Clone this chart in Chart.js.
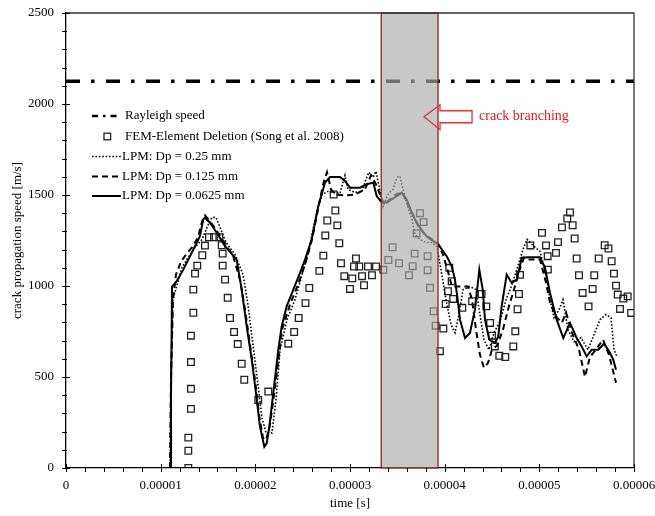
<!DOCTYPE html>
<html><head><meta charset="utf-8">
<script src="https://cdn.jsdelivr.net/npm/chart.js@4.4.0/dist/chart.umd.min.js"></script>
<style>html,body{margin:0;padding:0;background:#fff;}#wrap{width:655px;height:516px;}</style>
</head><body><div id="wrap"><canvas id="c" width="655" height="516"></canvas></div>
<script>
// ---- data (time in seconds, speed in m/s) ----
const rayleighTime = [0, 6e-5];
const rayleighSpeed = [2125, 2125];

const femTime = [1.292e-5,1.292e-5,1.292e-5,1.320e-5,1.320e-5,1.320e-5,1.320e-5,1.345e-5,1.345e-5,1.363e-5,1.387e-5,1.440e-5,1.468e-5,1.510e-5,1.563e-5,1.620e-5,1.645e-5,1.655e-5,1.655e-5,1.680e-5,1.708e-5,1.732e-5,1.775e-5,1.814e-5,1.856e-5,1.883e-5,2.031e-5,2.137e-5,
2.348e-5,2.410e-5,2.458e-5,2.530e-5,2.570e-5,2.676e-5,2.718e-5,2.739e-5,2.760e-5,2.827e-5,2.845e-5,2.866e-5,2.887e-5,2.905e-5,2.940e-5,3.000e-5,3.024e-5,3.042e-5,3.063e-5,3.098e-5,3.127e-5,3.148e-5,3.190e-5,3.232e-5,3.275e-5,3.352e-5,3.405e-5,3.450e-5,3.518e-5,3.623e-5,3.662e-5,3.683e-5,3.704e-5,3.739e-5,3.778e-5,3.820e-5,3.820e-5,3.845e-5,3.884e-5,3.905e-5,3.950e-5,3.986e-5,4.011e-5,4.035e-5,4.049e-5,4.074e-5,4.090e-5,4.186e-5,4.290e-5,4.390e-5,4.440e-5,4.480e-5,4.500e-5,4.530e-5,4.577e-5,4.640e-5,4.725e-5,4.746e-5,4.770e-5,4.785e-5,4.796e-5,4.905e-5,5.028e-5,5.070e-5,5.088e-5,5.090e-5,5.176e-5,5.197e-5,5.239e-5,5.295e-5,5.324e-5,5.352e-5,5.373e-5,5.394e-5,5.419e-5,5.457e-5,5.520e-5,5.563e-5,5.580e-5,5.627e-5,5.690e-5,5.730e-5,5.764e-5,5.788e-5,5.810e-5,5.828e-5,5.852e-5,5.887e-5,5.933e-5,5.970e-5];
const femSpeed = [0,95,167,325,435,582,727,853,980,1068,1112,1169,1222,1268,1268,1268,1224,1178,1112,1035,935,824,747,681,573,485,374,420,
683,747,824,906,989,1083,1167,1278,1360,1503,1415,1333,1235,1125,1054,984,1042,1107,1151,1107,1054,1004,1107,1059,1107,1089,1143,1213,1125,1059,1109,1178,1289,1400,1351,1164,1087,990,861,782,642,766,901,971,1100,1026,929,880,916,956,888,797,727,668,617,610,668,751,872,956,1061,1223,1292,1223,1164,1090,1182,1241,1322,1371,1404,1334,1261,1151,1059,962,888,984,1059,1151,1224,1206,1136,1068,1002,953,874,931,943,852];

const lpm025Time = [1.099e-5,1.109e-5,1.130e-5,1.173e-5,1.225e-5,1.289e-5,1.363e-5,1.437e-5,1.489e-5,1.542e-5,1.584e-5,1.627e-5,1.690e-5,1.785e-5,1.870e-5,1.922e-5,1.975e-5,2.028e-5,2.070e-5,2.113e-5,2.176e-5,2.218e-5,2.261e-5,2.335e-5,2.419e-5,2.493e-5,2.556e-5,2.609e-5,2.662e-5,2.704e-5,2.768e-5,2.820e-5,2.894e-5,2.947e-5,2.979e-5,3.053e-5,3.127e-5,3.169e-5,3.200e-5,3.243e-5,3.274e-5,3.317e-5,3.349e-5,3.401e-5,3.454e-5,3.496e-5,3.528e-5,3.560e-5,3.602e-5,3.655e-5,3.687e-5,3.739e-5,3.803e-5,3.866e-5,3.919e-5,3.961e-5,4.014e-5,4.067e-5,4.109e-5,4.151e-5,4.194e-5,4.267e-5,4.331e-5,4.373e-5,4.415e-5,4.468e-5,4.521e-5,4.584e-5,4.648e-5,4.711e-5,4.775e-5,4.827e-5,4.870e-5,4.922e-5,5.007e-5,5.070e-5,5.113e-5,5.155e-5,5.208e-5,5.250e-5,5.303e-5,5.366e-5,5.440e-5,5.514e-5,5.577e-5,5.641e-5,5.704e-5,5.757e-5,5.789e-5,5.820e-5];
const lpm025Speed = [0,485,925,1008,1101,1156,1212,1256,1322,1377,1377,1322,1239,1173,1063,898,677,457,275,193,193,374,650,815,925,1063,1173,1311,1432,1503,1520,1514,1509,1608,1531,1514,1520,1586,1625,1597,1630,1520,1437,1503,1531,1597,1603,1531,1448,1366,1283,1256,1239,1239,1217,1090,925,788,743,843,980,997,980,843,705,650,743,804,925,1008,1112,1200,1256,1228,1190,1063,925,826,870,925,760,694,716,650,732,815,843,826,650,611];

const lpm0125Time = [1.099e-5,1.109e-5,1.130e-5,1.162e-5,1.215e-5,1.268e-5,1.331e-5,1.394e-5,1.437e-5,1.468e-5,1.521e-5,1.584e-5,1.669e-5,1.764e-5,1.838e-5,1.891e-5,1.944e-5,1.996e-5,2.039e-5,2.081e-5,2.113e-5,2.155e-5,2.218e-5,2.282e-5,2.366e-5,2.451e-5,2.525e-5,2.599e-5,2.662e-5,2.715e-5,2.757e-5,2.799e-5,2.842e-5,2.947e-5,3.053e-5,3.158e-5,3.222e-5,3.274e-5,3.317e-5,3.359e-5,3.422e-5,3.486e-5,3.549e-5,3.613e-5,3.665e-5,3.718e-5,3.792e-5,3.866e-5,3.929e-5,3.982e-5,4.035e-5,4.077e-5,4.162e-5,4.246e-5,4.289e-5,4.331e-5,4.373e-5,4.415e-5,4.458e-5,4.500e-5,4.553e-5,4.616e-5,4.669e-5,4.732e-5,4.785e-5,4.838e-5,4.901e-5,5.007e-5,5.070e-5,5.113e-5,5.176e-5,5.239e-5,5.282e-5,5.345e-5,5.419e-5,5.482e-5,5.535e-5,5.598e-5,5.672e-5,5.736e-5,5.810e-5];
const lpm0125Speed = [0,485,925,1063,1134,1173,1212,1267,1355,1388,1355,1311,1239,1168,1035,870,677,485,292,165,154,237,485,760,898,1008,1118,1256,1421,1558,1625,1531,1503,1498,1503,1531,1608,1560,1503,1448,1476,1503,1514,1448,1393,1333,1283,1256,1234,1173,1079,997,997,997,925,760,622,551,578,650,672,760,870,980,1079,1156,1145,1145,1019,909,832,799,854,743,650,501,611,650,705,622,468];

const lpm00625Time = [1.099e-5,1.109e-5,1.120e-5,1.169e-5,1.239e-5,1.292e-5,1.363e-5,1.415e-5,1.450e-5,1.468e-5,1.521e-5,1.592e-5,1.680e-5,1.803e-5,1.856e-5,1.909e-5,1.962e-5,2.007e-5,2.049e-5,2.095e-5,2.120e-5,2.148e-5,2.243e-5,2.278e-5,2.331e-5,2.401e-5,2.472e-5,2.525e-5,2.595e-5,2.665e-5,2.736e-5,2.789e-5,2.894e-5,2.947e-5,3.000e-5,3.106e-5,3.176e-5,3.246e-5,3.282e-5,3.324e-5,3.388e-5,3.440e-5,3.493e-5,3.546e-5,3.599e-5,3.652e-5,3.704e-5,3.774e-5,3.827e-5,3.880e-5,3.933e-5,4.021e-5,4.074e-5,4.109e-5,4.133e-5,4.162e-5,4.215e-5,4.267e-5,4.320e-5,4.366e-5,4.402e-5,4.426e-5,4.471e-5,4.532e-5,4.566e-5,4.602e-5,4.655e-5,4.708e-5,4.761e-5,4.814e-5,4.883e-5,5.007e-5,5.060e-5,5.113e-5,5.183e-5,5.253e-5,5.324e-5,5.395e-5,5.447e-5,5.500e-5,5.553e-5,5.623e-5,5.683e-5,5.739e-5,5.781e-5,5.810e-5];
const lpm00625Speed = [0,374,997,1026,1090,1145,1219,1274,1366,1375,1348,1293,1219,1145,980,778,595,411,227,117,136,227,650,778,888,980,1072,1145,1256,1439,1568,1599,1599,1577,1540,1540,1559,1568,1494,1467,1458,1476,1494,1513,1476,1403,1348,1293,1265,1247,1228,1164,1109,1035,943,815,714,742,870,1090,980,815,705,687,723,888,1063,1017,1035,1155,1158,1158,1100,962,815,714,797,714,668,613,650,650,683,640,595,540];

const seriesNames = ['Rayleigh speed','FEM-Element Deletion (Song et al. 2008)','LPM: Dp = 0.25 mm','LPM: Dp = 0.125 mm','LPM: Dp = 0.0625 mm'];
const branchingWindow = [3.33e-5, 3.93e-5];
const branchingText = 'crack branching';
const axisTitles = {x: 'time [s]', y: 'crack propagation speed [m/s]'};

// ---- chart ----
const pts = (ts, vs) => ts.map((t, i) => ({x: t, y: vs[i]}));
const FONT = "'Liberation Serif', 'Times New Roman', serif";
Chart.defaults.font.family = FONT;
Chart.defaults.font.size = 13;
Chart.defaults.color = '#000';

const lineBase = {showLine: true, pointRadius: 0, pointHoverRadius: 0, tension: 0, fill: false, borderColor: '#000'};
const dsSolid = Object.assign({}, lineBase, {label: seriesNames[4], data: pts(lpm00625Time, lpm00625Speed), borderWidth: 2});
const dsDash = Object.assign({}, lineBase, {label: seriesNames[3], data: pts(lpm0125Time, lpm0125Speed), borderWidth: 2, borderDash: [6, 4]});
const dsDot = Object.assign({}, lineBase, {label: seriesNames[2], data: pts(lpm025Time, lpm025Speed), borderWidth: 1.6, borderDash: [1.6, 1.8]});
const dsFem = {label: seriesNames[1], data: pts(femTime, femSpeed), showLine: false, pointStyle: 'rect', pointRadius: 4.7, pointBorderWidth: 1.3, pointBorderColor: '#222', pointBackgroundColor: 'rgba(0,0,0,0)', borderColor: '#222', backgroundColor: 'rgba(0,0,0,0)'};
const dsRay = Object.assign({}, lineBase, {label: seriesNames[0], data: pts(rayleighTime, rayleighSpeed), borderWidth: 3.6, borderDash: [14, 11, 3.5, 11.5]});

const overlayPlugin = {
  id: 'overlay',
  afterDatasetsDraw(chart) {
    const {ctx, chartArea: a, scales: {x, y}} = chart;
    const x1 = x.getPixelForValue(branchingWindow[0]);
    const x2 = x.getPixelForValue(branchingWindow[1]);
    ctx.save();
    ctx.fillStyle = 'rgba(171,171,171,0.655)';
    ctx.fillRect(x1, a.top, x2 - x1, a.bottom - a.top);
    ctx.strokeStyle = '#9a1f1f';
    ctx.lineWidth = 1.3;
    ctx.strokeRect(x1, a.top, x2 - x1, a.bottom - a.top);
    ctx.restore();
  },
  afterDraw(chart) {
    const {ctx, chartArea: a, scales: {x, y}} = chart;
    ctx.save();
    // frame top & right
    ctx.strokeStyle = '#333';
    ctx.lineWidth = 1.3;
    ctx.beginPath();
    ctx.moveTo(a.left, a.top); ctx.lineTo(a.right, a.top); ctx.lineTo(a.right, a.bottom);
    ctx.stroke();
    // ticks
    ctx.strokeStyle = '#000';
    ctx.lineWidth = 1;
    x.ticks.forEach(t => {
      const px = Math.round(x.getPixelForValue(t.value)) + 0.5;
      const major = Math.round(t.value * 1e6) % 10 === 0;
      ctx.beginPath();
      ctx.moveTo(px, a.bottom - (major ? 4 : 0));
      ctx.lineTo(px, a.bottom + 4);
      ctx.stroke();
    });
    y.ticks.forEach(t => {
      const py = Math.round(y.getPixelForValue(t.value)) + 0.5;
      const major = t.value % 500 === 0;
      ctx.beginPath();
      ctx.moveTo(a.left - 4, py);
      ctx.lineTo(a.left + (major ? 4 : 1), py);
      ctx.stroke();
    });
    // arrow + label
    const bx = x.getPixelForValue(branchingWindow[1]);
    const cy = y.getPixelForValue(1930);
    const tip = bx - 14;
    ctx.strokeStyle = '#e53030';
    ctx.lineWidth = 1.3;
    ctx.beginPath();
    ctx.moveTo(tip, cy);
    ctx.lineTo(tip + 16, cy - 12);
    ctx.lineTo(tip + 16, cy - 6);
    ctx.lineTo(tip + 48, cy - 6);
    ctx.lineTo(tip + 48, cy + 6);
    ctx.lineTo(tip + 16, cy + 6);
    ctx.lineTo(tip + 16, cy + 13);
    ctx.closePath();
    ctx.stroke();
    ctx.fillStyle = '#e01818';
    ctx.font = '14px ' + FONT;
    ctx.textBaseline = 'middle';
    ctx.textAlign = 'left';
    ctx.fillText(branchingText, tip + 55, cy);
    // legend
    ctx.font = '13px ' + FONT;
    ctx.fillStyle = '#000';
    const rows = [116, 136.5, 156.5, 176.5, 196];
    const sx0 = 92, sx1 = 121;
    ctx.strokeStyle = '#000';
    ctx.lineWidth = 2.4;
    ctx.setLineDash([6, 5, 2.5, 5]);
    ctx.beginPath(); ctx.moveTo(sx0, rows[0]); ctx.lineTo(sx1, rows[0]); ctx.stroke();
    ctx.setLineDash([]);
    ctx.fillText(seriesNames[0], 125, rows[0]);
    ctx.lineWidth = 1.3; ctx.strokeStyle = '#222';
    ctx.strokeRect(104, rows[1] - 3.3, 6.6, 6.6);
    ctx.fillText(seriesNames[1], 125, rows[1]);
    [[dsDot, rows[2]], [dsDash, rows[3]], [dsSolid, rows[4]]].forEach(([ds, ry]) => {
      ctx.strokeStyle = '#000';
      ctx.lineWidth = ds.borderWidth;
      ctx.setLineDash(ds.borderDash || []);
      ctx.beginPath(); ctx.moveTo(sx0, ry); ctx.lineTo(sx1, ry); ctx.stroke();
      ctx.setLineDash([]);
      ctx.fillText(ds.label, 122, ry);
    });
    ctx.restore();
  }
};

new Chart(document.getElementById('c'), {
  type: 'scatter',
  data: {datasets: [dsSolid, dsDash, dsDot, dsFem, dsRay]},
  options: {
    responsive: false,
    animation: false,
    layout: {padding: {left: 0, top: 13, right: 21, bottom: 0}},
    plugins: {legend: {display: false}, tooltip: {enabled: false}},
    scales: {
      x: {
        type: 'linear', min: 0, max: 6e-5,
        grid: {display: false},
        border: {display: true, color: '#000', width: 1.3},
        ticks: {stepSize: 2e-6, autoSkip: false, maxRotation: 0, padding: 2,
          callback: v => { const k = Math.round(v * 1e6); return k % 10 !== 0 ? '' : (k === 0 ? '0' : (k / 1e6).toFixed(5)); }},
        title: {display: true, text: axisTitles.x, padding: {top: 0, bottom: 5}},
        afterFit: s => { s.height = 48; s.paddingLeft = 0; s.paddingRight = 0; }
      },
      y: {
        type: 'linear', min: 0, max: 2500,
        grid: {display: false},
        border: {display: true, color: '#000', width: 1.3},
        ticks: {stepSize: 100, autoSkip: false, padding: 4,
          callback: v => (v % 500 === 0 ? String(v) : '')},
        title: {display: true, text: axisTitles.y, padding: {top: 10, bottom: 0}},
        afterFit: s => { s.width = 66; s.paddingTop = 0; s.paddingBottom = 0; }
      }
    }
  },
  plugins: [overlayPlugin]
});
</script>
</body></html>
